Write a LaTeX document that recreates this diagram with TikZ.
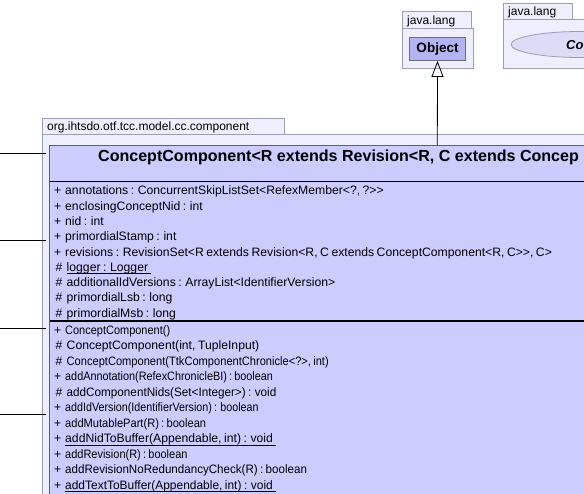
\documentclass[tikz,border=0pt]{standalone}
\usepackage{fontspec}
\setmainfont{Liberation Sans}[Ligatures=TeXOff]
\usetikzlibrary{arrows.meta}
\definecolor{pkgfill}{HTML}{EEEEFC}
\definecolor{pkgdraw}{HTML}{9C9CB4}
\definecolor{clsfill}{HTML}{CCCCFF}
\definecolor{objfill}{HTML}{B4B4F2}
\definecolor{ellfill}{HTML}{DCDCF6}
\newcommand{\memfont}{\fontsize{12.2}{13}\selectfont\spaceskip=2.5pt plus 0pt minus 0pt\relax}
\tikzset{
  pkg/.style={draw=pkgdraw, fill=pkgfill, line width=1pt},
  member/.style={anchor=base west, inner sep=0pt, font=\memfont},
  vis/.style={anchor=base west, inner sep=0pt, font=\memfont},
  lbl/.style={anchor=base west, inner sep=0pt, font=\fontsize{12}{12}\selectfont},
  link/.style={draw=black, line width=0.8pt},
  uline/.style={line width=0.8pt},
}
\begin{document}
\begin{tikzpicture}[x=1pt,y=-1pt]
\useasboundingbox (0,0) rectangle (584,493);
\fill[white] (0,0) rectangle (584,493);
% java.lang package 1
\path[pkg] (402,11.5) rectangle (471.5,28);
\path[pkg] (402,28) rectangle (473,68);
\node[lbl] (jl1) at (407,24.5) {java.lang};
\node[draw=pkgdraw!70!black, fill=objfill, line width=0.8pt, minimum width=56pt, minimum height=23pt, inner sep=0pt, font=\bfseries\fontsize{13.5}{13.5}\selectfont] (obj) at (437.5,49) {Object};
% java.lang package 2
\path[pkg] (503,3) rectangle (572.5,19);
\path[pkg] (503,19) rectangle (590,68);
\node[lbl] (jl2) at (508,15.5) {java.lang};
\begin{scope}
\clip (0,0) rectangle (584,493);
\path[draw=pkgdraw, fill=ellfill, line width=0.8pt] (580,44.5) ellipse (69 and 13);
\end{scope}
\node[anchor=base west, inner sep=0pt, font=\bfseries\itshape\fontsize{13}{13}\selectfont] (co) at (566,49.5) {Co};
% component package
\path[pkg] (42,118) rectangle (284,134);
\path[pkg] (42,134) rectangle (590,500);
\node[lbl] (pk) at (47,130) {org.ihtsdo.otf.tcc.model.cc.component};
% class box
\path[draw=pkgdraw!60!black, fill=clsfill, line width=0.8pt] (49.5,145) rectangle (590,500);
\coordinate (clstop) at (437.3,145);
\node[anchor=base west, inner sep=0pt, font=\bfseries\fontsize{16.05}{16}\selectfont] (title) at (98,161) {ConceptComponent<R extends Revision<R, C extends Concep};
\draw[black, line width=1pt] (49.5,181) -- (590,181);
\draw[black, line width=2pt] (49.5,321) -- (590,321);
% attributes
\foreach \vv/\txt/\ul [count=\i from 0] in {+/annotations : ConcurrentSkipListSet<RefexMember<?{,} ?>>/0,
  +/enclosingConceptNid : int/0, +/nid : int/0, +/primordialStamp : int/0,
  +/revisions : RevisionSet<R extends Revision<R{,} C extends ConceptComponent<R{,} C>>{,} C>/0,
  \#/logger : Logger/1, \#/additionalIdVersions : ArrayList<IdentifierVersion>/0,
  \#/primordialLsb : long/0, \#/primordialMsb : long/0}{
  \pgfmathsetmacro{\yy}{194.8+15.3*\i}
  \if+\vv \def\vx{54}\def\tx{65}\else \def\vx{55.5}\def\tx{66.5}\fi
  \node[vis] (av\i) at (\vx,\yy) {\vv};
  \node[member] (a\i) at (\tx,\yy) {\txt};
  \ifnum\ul=1 \draw[uline] ([yshift=-2.5pt]a\i.base west) -- ([yshift=-2.5pt,xshift=3pt]a\i.base east);\fi
}
% methods
\foreach \vv/\txt/\ul/\sc [count=\i from 0] in {+/ConceptComponent()/0/0.9,
  \#/ConceptComponent(int{,} TupleInput)/0/1,
  \#/ConceptComponent(TtkComponentChronicle<?>{,} int)/0/0.91,
  +/addAnnotation(RefexChronicleBI) : boolean/0/0.89,
  \#/addComponentNids(Set<Integer>) : void/0/0.96,
  +/addIdVersion(IdentifierVersion) : boolean/0/0.88,
  +/addMutablePart(R) : boolean/0/0.91,
  +/addNidToBuffer(Appendable{,} int) : void/1/1,
  +/addRevision(R) : boolean/0/0.9,
  +/addRevisionNoRedundancyCheck(R) : boolean/0/0.95,
  +/addTextToBuffer(Appendable{,} int) : void/1/0.98}{
  \pgfmathsetmacro{\yy}{334.5+15.45*\i}
  \if+\vv \def\vx{54}\def\tx{65}\else \def\vx{55.5}\def\tx{66.5}\fi
  \node[vis] (mv\i) at (\vx,\yy) {\vv};
  \node[member] (m\i) at (\tx,\yy) {\scalebox{\sc}[1]{\txt}};
  \ifnum\ul=1 \draw[uline] ([yshift=-2.5pt]m\i.base west) -- ([yshift=-2.5pt,xshift=3pt]m\i.base east);\fi
}
% generalization
\draw[link, -{Triangle[open, width=12pt, length=16pt]}] (clstop) -- (obj.south);
% incoming connectors from the left
\coordinate (l1) at (0,153);
\coordinate (r1) at (46,153);
\coordinate (l2) at (0,240.5);
\coordinate (r2) at (46,240.5);
\coordinate (l3) at (0,328);
\coordinate (r3) at (46,328);
\coordinate (l4) at (0,414);
\coordinate (r4) at (46,414);
\draw[link] (l1) -- (r1);
\draw[link] (l2) -- (r2);
\draw[link] (l3) -- (r3);
\draw[link] (l4) -- (r4);
\end{tikzpicture}
\end{document}
